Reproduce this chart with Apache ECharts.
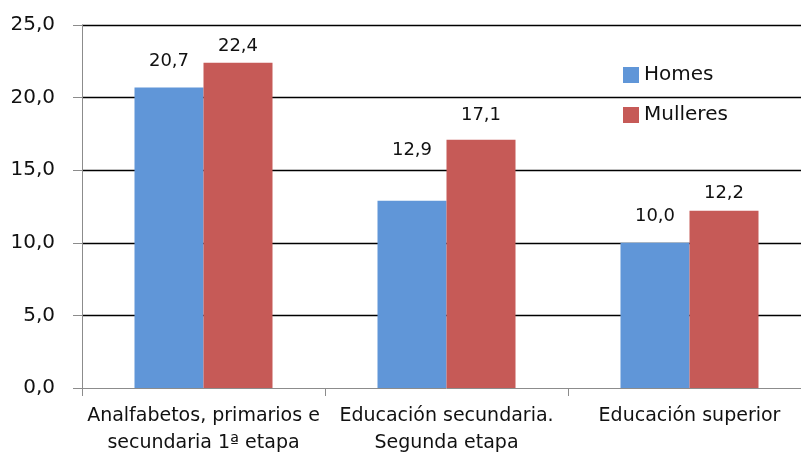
<!DOCTYPE html>
<html><head><meta charset="utf-8">
<script src="https://cdn.jsdelivr.net/npm/echarts@6/dist/echarts.min.js"></script>
<style>html,body{margin:0;padding:0;background:#fff;overflow:hidden;width:801px;height:460px}#c{width:812px;height:460px}</style>
</head><body><div id="c"></div>
<script>
const categories = ["Analfabetos, primarios e\nsecundaria 1ª etapa", "Educación secundaria.\nSegunda etapa", "Educación superior"];
const homes = [20.7, 12.9, 10.0];
const mulleres = [22.4, 17.1, 12.2];
const seriesNames = ["Homes", "Mulleres"];
const yTicks = [0, 5, 10, 15, 20, 25];

// label distances above bar tops (style only, as placed in the original)
const homesLabelDist = [15, 39, 15];
const mulleresLabelDist = [5, 13, 7];

const FONT = '"DejaVu Sans"';
const TXT = '#111';
const fmt = v => Number(v).toFixed(1).replace('.', ',');
const chart = echarts.init(document.getElementById('c'));
const labelCfg = {show: true, position: 'top', fontFamily: FONT, fontSize: 18, lineHeight: 22, color: TXT, formatter: p => fmt(p.value)};
const withDist = (vals, dists) => vals.map((v, i) => ({value: v, label: {distance: dists[i]}}));
chart.setOption({
  animation: false,
  textStyle: {fontFamily: FONT},
  legend: {
    orient: 'vertical', left: 623, top: 65, padding: 0, itemWidth: 16, itemHeight: 16, itemGap: 20,
    textStyle: {fontFamily: FONT, fontSize: 20, lineHeight: 20, color: TXT},
    icon: 'rect', data: seriesNames
  },
  grid: {left: 82, top: 25, width: 729, height: 363, containLabel: false},
  xAxis: {
    type: 'category', data: categories,
    axisLine: {lineStyle: {color: '#8c8c8c', width: 1}},
    axisTick: {show: true, length: 8, lineStyle: {color: '#8c8c8c'}},
    axisLabel: {fontFamily: FONT, fontSize: 19, color: TXT, margin: 15, lineHeight: 27, interval: 0}
  },
  yAxis: {
    type: 'value', min: yTicks[0], max: yTicks[yTicks.length - 1], interval: 5,
    axisLine: {show: true, lineStyle: {color: '#8c8c8c', width: 1}},
    axisTick: {show: true, length: 9, lineStyle: {color: '#8c8c8c'}},
    splitLine: {showMinLine: false, lineStyle: {color: '#000', width: 1.3}},
    axisLabel: {fontFamily: FONT, fontSize: 20, color: TXT, margin: 27, formatter: v => fmt(v)}
  },
  series: [
    {name: seriesNames[0], type: 'bar', data: withDist(homes, homesLabelDist), barWidth: 69, barGap: '0%', itemStyle: {color: '#6096D8'}, label: labelCfg},
    {name: seriesNames[1], type: 'bar', data: withDist(mulleres, mulleresLabelDist), barWidth: 69, barGap: '0%', itemStyle: {color: '#C65A57'}, label: labelCfg}
  ]
});
</script></body></html>
